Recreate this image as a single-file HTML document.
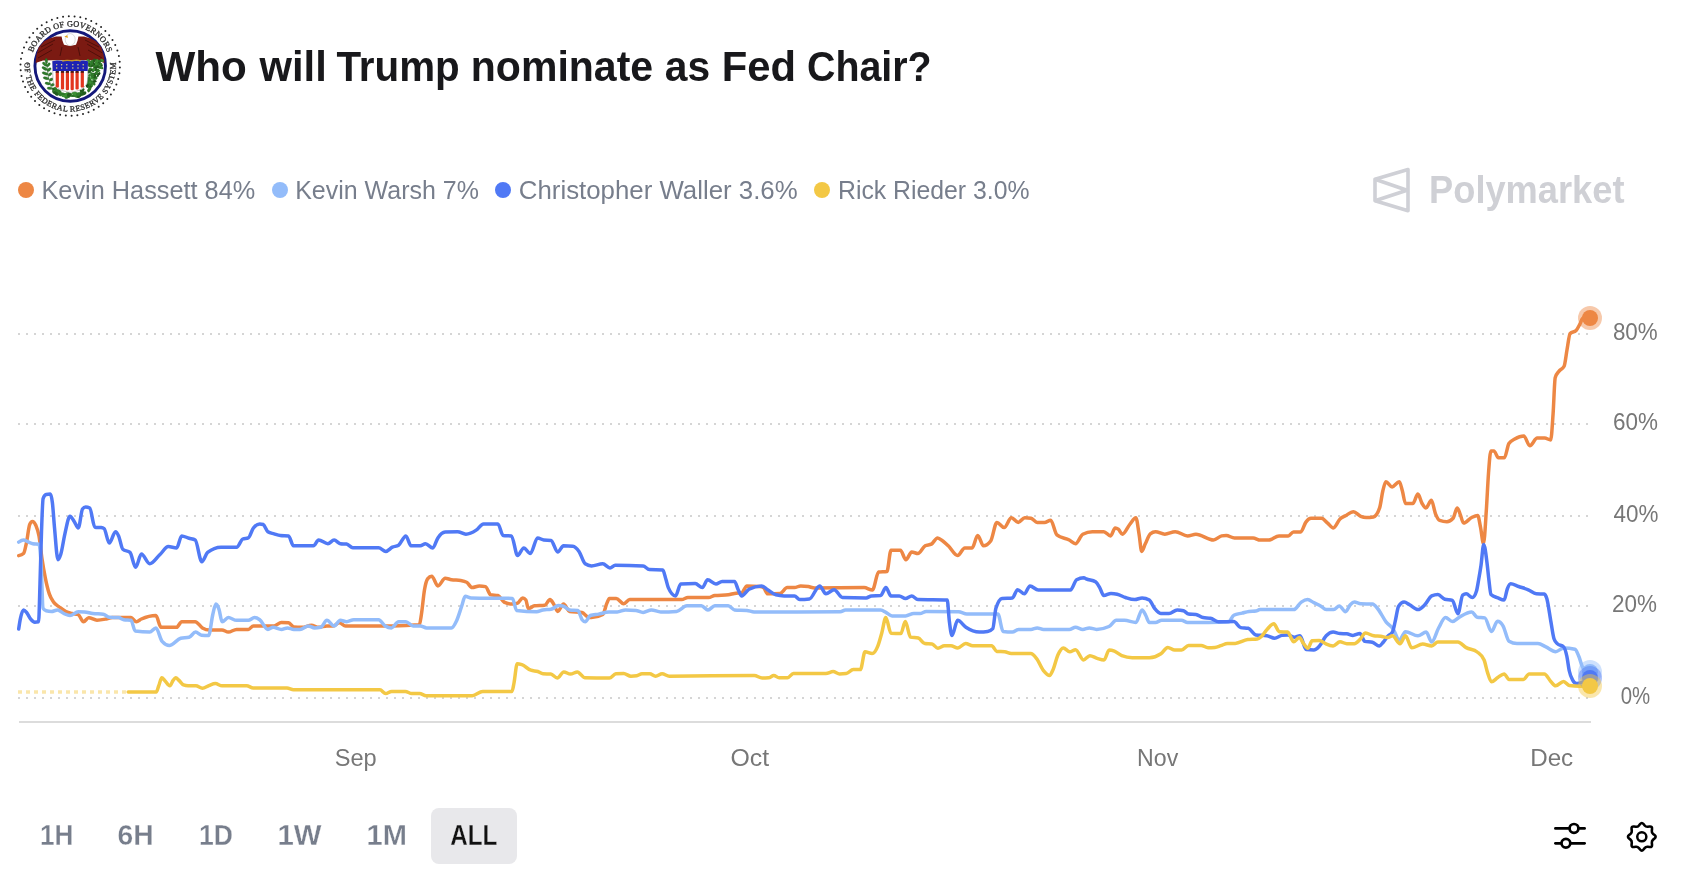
<!DOCTYPE html>
<html><head><meta charset="utf-8"><title>Who will Trump nominate as Fed Chair?</title>
<style>
html,body{margin:0;padding:0;background:#fff;}
body{width:1690px;height:870px;overflow:hidden;position:relative;font-family:"Liberation Sans",sans-serif;}
</style></head><body>
<svg width="1690" height="870" viewBox="0 0 1690 870" style="position:absolute;left:0;top:0;will-change:transform">
<g><circle cx="119.88" cy="67.49" r="1.0" fill="#222"/>
<circle cx="119.37" cy="73.25" r="1.0" fill="#222"/>
<circle cx="118.19" cy="78.91" r="1.0" fill="#222"/>
<circle cx="116.37" cy="84.39" r="1.0" fill="#222"/>
<circle cx="113.92" cy="89.63" r="1.0" fill="#222"/>
<circle cx="110.89" cy="94.54" r="1.0" fill="#222"/>
<circle cx="107.30" cy="99.07" r="1.0" fill="#222"/>
<circle cx="103.21" cy="103.16" r="1.0" fill="#222"/>
<circle cx="98.67" cy="106.74" r="1.0" fill="#222"/>
<circle cx="93.75" cy="109.77" r="1.0" fill="#222"/>
<circle cx="88.51" cy="112.21" r="1.0" fill="#222"/>
<circle cx="83.02" cy="114.02" r="1.0" fill="#222"/>
<circle cx="77.36" cy="115.18" r="1.0" fill="#222"/>
<circle cx="71.60" cy="115.68" r="1.0" fill="#222"/>
<circle cx="65.82" cy="115.51" r="1.0" fill="#222"/>
<circle cx="60.11" cy="114.66" r="1.0" fill="#222"/>
<circle cx="54.52" cy="113.16" r="1.0" fill="#222"/>
<circle cx="49.15" cy="111.02" r="1.0" fill="#222"/>
<circle cx="44.07" cy="108.28" r="1.0" fill="#222"/>
<circle cx="39.34" cy="104.96" r="1.0" fill="#222"/>
<circle cx="35.02" cy="101.11" r="1.0" fill="#222"/>
<circle cx="31.19" cy="96.79" r="1.0" fill="#222"/>
<circle cx="27.88" cy="92.05" r="1.0" fill="#222"/>
<circle cx="25.14" cy="86.96" r="1.0" fill="#222"/>
<circle cx="23.01" cy="81.59" r="1.0" fill="#222"/>
<circle cx="21.52" cy="76.01" r="1.0" fill="#222"/>
<circle cx="20.69" cy="70.29" r="1.0" fill="#222"/>
<circle cx="20.52" cy="64.51" r="1.0" fill="#222"/>
<circle cx="21.03" cy="58.75" r="1.0" fill="#222"/>
<circle cx="22.21" cy="53.09" r="1.0" fill="#222"/>
<circle cx="24.03" cy="47.61" r="1.0" fill="#222"/>
<circle cx="26.48" cy="42.37" r="1.0" fill="#222"/>
<circle cx="29.51" cy="37.46" r="1.0" fill="#222"/>
<circle cx="33.10" cy="32.93" r="1.0" fill="#222"/>
<circle cx="37.19" cy="28.84" r="1.0" fill="#222"/>
<circle cx="41.73" cy="25.26" r="1.0" fill="#222"/>
<circle cx="46.65" cy="22.23" r="1.0" fill="#222"/>
<circle cx="51.89" cy="19.79" r="1.0" fill="#222"/>
<circle cx="57.38" cy="17.98" r="1.0" fill="#222"/>
<circle cx="63.04" cy="16.82" r="1.0" fill="#222"/>
<circle cx="68.80" cy="16.32" r="1.0" fill="#222"/>
<circle cx="74.58" cy="16.49" r="1.0" fill="#222"/>
<circle cx="80.29" cy="17.34" r="1.0" fill="#222"/>
<circle cx="85.88" cy="18.84" r="1.0" fill="#222"/>
<circle cx="91.25" cy="20.98" r="1.0" fill="#222"/>
<circle cx="96.33" cy="23.72" r="1.0" fill="#222"/>
<circle cx="101.06" cy="27.04" r="1.0" fill="#222"/>
<circle cx="105.38" cy="30.89" r="1.0" fill="#222"/>
<circle cx="109.21" cy="35.21" r="1.0" fill="#222"/>
<circle cx="112.52" cy="39.95" r="1.0" fill="#222"/>
<circle cx="115.26" cy="45.04" r="1.0" fill="#222"/>
<circle cx="117.39" cy="50.41" r="1.0" fill="#222"/>
<circle cx="118.88" cy="55.99" r="1.0" fill="#222"/>
<circle cx="119.71" cy="61.71" r="1.0" fill="#222"/>
<path id="tp1" d="M31.20,59.12 A39.6,39.6 0 0 1 109.20,59.12" fill="none"/>
<path id="tp2" d="M25.04,59.65 A45.6,45.6 0 1 0 115.36,59.65" fill="none"/>
<text font-family="Liberation Serif" font-size="8.2" fill="#2a2a2a" stroke="#2a2a2a" stroke-width="0.3"><textPath href="#tp1" startOffset="50%" text-anchor="middle" textLength="97" lengthAdjust="spacing">BOARD OF GOVERNORS</textPath></text>
<text font-family="Liberation Serif" font-size="8.0" fill="#2a2a2a" stroke="#2a2a2a" stroke-width="0.3"><textPath href="#tp2" startOffset="50%" text-anchor="middle" textLength="150" lengthAdjust="spacing">OF THE FEDERAL RESERVE SYSTEM</textPath></text>
<circle cx="27.700000000000003" cy="64.5" r="0.9" fill="#555"/><circle cx="113.0" cy="64.5" r="0.9" fill="#555"/>
<circle cx="70.2" cy="66.0" r="35.25" fill="#fff" stroke="#14187a" stroke-width="2.9"/>
<path d="M35.6,63 L36.4,55 L38.6,47.5 L44,41.2 L50,38.2 L56,36.6 L61.6,36.4 L62.4,40.5 L64,44.8 L70,46 L76,44.8 L77.6,40.5 L78.4,36.4 L84,36.6 L90,38.2 L96,41.2 L101.4,47.5 L103.6,55 L104.6,63 L97,60.5 L88.2,60.2 L52.2,60.2 L43,60.5 Z" fill="#7b1a12"/>
<path d="M38,58 L52,50 M37.5,53 L53,44 M41,47 L55,40 M102,58 L88,50 M102.5,53 L87,44 M99,47 L85,40 M60,56 L62,47 M80,56 L78,47" stroke="#4a0d08" stroke-width="0.9" fill="none"/>
<ellipse cx="70.2" cy="39.6" rx="5.0" ry="6.0" fill="#fff" stroke="#b8b8b8" stroke-width="0.5"/>
<path d="M67.5,35.2 L64.3,36.6 L67.8,38.0 Z" fill="#e6a417"/>
<g><path d="M52,90 Q47.5,78 46.5,63" stroke="#24611f" stroke-width="0.7" fill="none"/><ellipse cx="46.37" cy="60.91" rx="2.60" ry="1.3" transform="rotate(-95.0 46.37 60.91)" fill="#2f7d2b" stroke="#1d4f1a" stroke-width="0.3"/><ellipse cx="44.69" cy="64.23" rx="2.75" ry="1.3" transform="rotate(-140.0 44.69 64.23)" fill="#2f7d2b" stroke="#1d4f1a" stroke-width="0.3"/><ellipse cx="48.48" cy="64.74" rx="2.30" ry="1.3" transform="rotate(-50.0 48.48 64.74)" fill="#2f7d2b" stroke="#1d4f1a" stroke-width="0.3"/><ellipse cx="44.60" cy="68.50" rx="3.00" ry="1.3" transform="rotate(-150.0 44.60 68.50)" fill="#2f7d2b" stroke="#1d4f1a" stroke-width="0.3"/><ellipse cx="49.22" cy="69.55" rx="2.25" ry="1.3" transform="rotate(-40.0 49.22 69.55)" fill="#2f7d2b" stroke="#1d4f1a" stroke-width="0.3"/><ellipse cx="45.09" cy="73.44" rx="3.10" ry="1.3" transform="rotate(-160.0 45.09 73.44)" fill="#2f7d2b" stroke="#1d4f1a" stroke-width="0.3"/><ellipse cx="50.12" cy="74.30" rx="2.10" ry="1.3" transform="rotate(-35.0 50.12 74.30)" fill="#2f7d2b" stroke="#1d4f1a" stroke-width="0.3"/><ellipse cx="46.10" cy="78.22" rx="3.00" ry="1.3" transform="rotate(-165.0 46.10 78.22)" fill="#2f7d2b" stroke="#1d4f1a" stroke-width="0.3"/><ellipse cx="51.33" cy="79.50" rx="2.00" ry="1.3" transform="rotate(-30.0 51.33 79.50)" fill="#2f7d2b" stroke="#1d4f1a" stroke-width="0.3"/><ellipse cx="47.69" cy="83.52" rx="2.75" ry="1.3" transform="rotate(-170.0 47.69 83.52)" fill="#2f7d2b" stroke="#1d4f1a" stroke-width="0.3"/><ellipse cx="52.72" cy="84.70" rx="1.90" ry="1.3" transform="rotate(-25.0 52.72 84.70)" fill="#2f7d2b" stroke="#1d4f1a" stroke-width="0.3"/><ellipse cx="49.36" cy="88.30" rx="2.25" ry="1.3" transform="rotate(-175.0 49.36 88.30)" fill="#2f7d2b" stroke="#1d4f1a" stroke-width="0.3"/></g>
<g><ellipse cx="94.87" cy="77.32" rx="1.33" ry="1.18" transform="rotate(170 94.87 77.32)" fill="#1f521b"/><ellipse cx="96.04" cy="78.02" rx="1.63" ry="1.42" transform="rotate(69 96.04 78.02)" fill="#2f7a2a"/><ellipse cx="91.72" cy="63.25" rx="1.67" ry="1.01" transform="rotate(156 91.72 63.25)" fill="#3b8f34"/><ellipse cx="97.39" cy="71.01" rx="1.42" ry="1.27" transform="rotate(23 97.39 71.01)" fill="#2f7a2a"/><ellipse cx="101.96" cy="60.55" rx="2.00" ry="1.48" transform="rotate(30 101.96 60.55)" fill="#3b8f34"/><ellipse cx="92.62" cy="65.00" rx="1.79" ry="1.31" transform="rotate(37 92.62 65.00)" fill="#3b8f34"/><ellipse cx="90.95" cy="85.91" rx="1.57" ry="1.12" transform="rotate(30 90.95 85.91)" fill="#2f7a2a"/><ellipse cx="88.95" cy="64.43" rx="2.04" ry="1.25" transform="rotate(107 88.95 64.43)" fill="#235d1e"/><ellipse cx="88.29" cy="79.61" rx="2.04" ry="1.19" transform="rotate(57 88.29 79.61)" fill="#235d1e"/><ellipse cx="95.89" cy="73.49" rx="1.53" ry="1.46" transform="rotate(171 95.89 73.49)" fill="#2f7a2a"/><ellipse cx="93.22" cy="70.16" rx="2.01" ry="1.12" transform="rotate(104 93.22 70.16)" fill="#1f521b"/><ellipse cx="88.32" cy="60.75" rx="1.86" ry="1.47" transform="rotate(21 88.32 60.75)" fill="#3b8f34"/><ellipse cx="99.40" cy="67.14" rx="1.61" ry="1.11" transform="rotate(94 99.40 67.14)" fill="#2f7a2a"/><ellipse cx="88.38" cy="81.44" rx="2.07" ry="0.92" transform="rotate(170 88.38 81.44)" fill="#235d1e"/><ellipse cx="93.15" cy="62.96" rx="1.63" ry="0.99" transform="rotate(50 93.15 62.96)" fill="#1f521b"/><ellipse cx="88.53" cy="79.47" rx="1.58" ry="1.38" transform="rotate(113 88.53 79.47)" fill="#235d1e"/><ellipse cx="90.25" cy="79.97" rx="1.45" ry="0.93" transform="rotate(178 90.25 79.97)" fill="#2f7a2a"/><ellipse cx="92.29" cy="74.91" rx="1.97" ry="1.11" transform="rotate(45 92.29 74.91)" fill="#3b8f34"/><ellipse cx="89.18" cy="78.08" rx="2.02" ry="1.10" transform="rotate(37 89.18 78.08)" fill="#2f7a2a"/><ellipse cx="89.82" cy="87.00" rx="1.87" ry="1.37" transform="rotate(19 89.82 87.00)" fill="#3b8f34"/><ellipse cx="89.88" cy="72.23" rx="1.57" ry="1.17" transform="rotate(180 89.88 72.23)" fill="#2f7a2a"/><ellipse cx="93.88" cy="83.51" rx="2.16" ry="1.31" transform="rotate(57 93.88 83.51)" fill="#2f7a2a"/><ellipse cx="94.47" cy="67.90" rx="1.40" ry="1.39" transform="rotate(96 94.47 67.90)" fill="#3b8f34"/><ellipse cx="101.65" cy="65.34" rx="1.46" ry="1.20" transform="rotate(93 101.65 65.34)" fill="#235d1e"/><ellipse cx="93.19" cy="75.30" rx="2.01" ry="1.36" transform="rotate(125 93.19 75.30)" fill="#2f7a2a"/><ellipse cx="94.59" cy="78.43" rx="1.80" ry="1.30" transform="rotate(150 94.59 78.43)" fill="#235d1e"/><ellipse cx="101.42" cy="67.65" rx="2.16" ry="1.10" transform="rotate(32 101.42 67.65)" fill="#235d1e"/><ellipse cx="90.52" cy="83.50" rx="1.59" ry="1.06" transform="rotate(52 90.52 83.50)" fill="#235d1e"/><ellipse cx="95.37" cy="74.01" rx="1.61" ry="1.29" transform="rotate(133 95.37 74.01)" fill="#235d1e"/><ellipse cx="89.85" cy="82.86" rx="2.08" ry="1.31" transform="rotate(176 89.85 82.86)" fill="#3b8f34"/><ellipse cx="89.82" cy="86.33" rx="2.18" ry="1.02" transform="rotate(65 89.82 86.33)" fill="#1f521b"/><ellipse cx="89.22" cy="83.55" rx="1.95" ry="1.34" transform="rotate(31 89.22 83.55)" fill="#2f7a2a"/><ellipse cx="91.93" cy="81.57" rx="1.57" ry="1.23" transform="rotate(156 91.93 81.57)" fill="#2f7a2a"/><ellipse cx="101.56" cy="67.81" rx="1.44" ry="1.16" transform="rotate(117 101.56 67.81)" fill="#3b8f34"/><ellipse cx="97.75" cy="66.41" rx="2.19" ry="1.49" transform="rotate(30 97.75 66.41)" fill="#2f7a2a"/><ellipse cx="87.89" cy="84.58" rx="1.73" ry="1.23" transform="rotate(75 87.89 84.58)" fill="#3b8f34"/><ellipse cx="96.48" cy="69.98" rx="1.83" ry="1.04" transform="rotate(163 96.48 69.98)" fill="#2f7a2a"/><ellipse cx="94.23" cy="60.52" rx="2.07" ry="1.42" transform="rotate(124 94.23 60.52)" fill="#235d1e"/><ellipse cx="97.93" cy="75.28" rx="1.85" ry="0.96" transform="rotate(98 97.93 75.28)" fill="#1f521b"/><ellipse cx="95.54" cy="69.66" rx="2.04" ry="1.15" transform="rotate(146 95.54 69.66)" fill="#235d1e"/><ellipse cx="91.26" cy="77.84" rx="1.44" ry="1.13" transform="rotate(86 91.26 77.84)" fill="#3b8f34"/><ellipse cx="89.98" cy="65.88" rx="1.62" ry="1.44" transform="rotate(0 89.98 65.88)" fill="#2f7a2a"/><ellipse cx="96.58" cy="63.41" rx="1.79" ry="1.10" transform="rotate(158 96.58 63.41)" fill="#1f521b"/><ellipse cx="92.33" cy="75.74" rx="1.74" ry="1.19" transform="rotate(127 92.33 75.74)" fill="#3b8f34"/><ellipse cx="98.57" cy="70.87" rx="1.84" ry="1.06" transform="rotate(177 98.57 70.87)" fill="#3b8f34"/><ellipse cx="92.61" cy="73.90" rx="2.15" ry="1.08" transform="rotate(167 92.61 73.90)" fill="#235d1e"/><ellipse cx="88.33" cy="64.37" rx="2.16" ry="1.05" transform="rotate(7 88.33 64.37)" fill="#1f521b"/><ellipse cx="93.86" cy="64.18" rx="1.78" ry="1.06" transform="rotate(168 93.86 64.18)" fill="#2f7a2a"/><ellipse cx="89.39" cy="81.61" rx="2.06" ry="1.33" transform="rotate(51 89.39 81.61)" fill="#235d1e"/><ellipse cx="98.92" cy="73.79" rx="1.88" ry="1.26" transform="rotate(134 98.92 73.79)" fill="#1f521b"/><ellipse cx="99.50" cy="63.69" rx="1.55" ry="1.32" transform="rotate(110 99.50 63.69)" fill="#235d1e"/><ellipse cx="87.89" cy="80.24" rx="1.62" ry="1.35" transform="rotate(106 87.89 80.24)" fill="#235d1e"/><ellipse cx="91.75" cy="61.48" rx="1.92" ry="0.96" transform="rotate(124 91.75 61.48)" fill="#2f7a2a"/><ellipse cx="94.25" cy="65.66" rx="1.84" ry="1.31" transform="rotate(172 94.25 65.66)" fill="#2f7a2a"/><ellipse cx="95.66" cy="78.02" rx="1.73" ry="1.31" transform="rotate(130 95.66 78.02)" fill="#2f7a2a"/><ellipse cx="90.04" cy="84.77" rx="1.57" ry="0.90" transform="rotate(140 90.04 84.77)" fill="#2f7a2a"/><ellipse cx="94.37" cy="76.22" rx="2.12" ry="0.99" transform="rotate(86 94.37 76.22)" fill="#2f7a2a"/><ellipse cx="93.13" cy="75.33" rx="1.78" ry="1.16" transform="rotate(97 93.13 75.33)" fill="#235d1e"/><ellipse cx="99.46" cy="61.81" rx="2.04" ry="1.38" transform="rotate(119 99.46 61.81)" fill="#235d1e"/><ellipse cx="99.40" cy="61.19" rx="2.20" ry="1.32" transform="rotate(9 99.40 61.19)" fill="#2f7a2a"/><ellipse cx="88.86" cy="83.24" rx="1.94" ry="0.98" transform="rotate(53 88.86 83.24)" fill="#2f7a2a"/><ellipse cx="88.00" cy="85.29" rx="1.47" ry="1.38" transform="rotate(12 88.00 85.29)" fill="#1f521b"/><ellipse cx="95.94" cy="66.25" rx="1.97" ry="1.07" transform="rotate(103 95.94 66.25)" fill="#2f7a2a"/><ellipse cx="93.99" cy="63.70" rx="1.42" ry="1.16" transform="rotate(57 93.99 63.70)" fill="#1f521b"/><ellipse cx="92.68" cy="76.71" rx="2.12" ry="0.98" transform="rotate(53 92.68 76.71)" fill="#235d1e"/><ellipse cx="94.79" cy="75.85" rx="2.12" ry="1.23" transform="rotate(112 94.79 75.85)" fill="#235d1e"/><ellipse cx="95.62" cy="67.61" rx="2.05" ry="1.07" transform="rotate(176 95.62 67.61)" fill="#235d1e"/><ellipse cx="93.71" cy="82.32" rx="1.96" ry="1.01" transform="rotate(128 93.71 82.32)" fill="#2f7a2a"/><ellipse cx="88.62" cy="78.19" rx="1.38" ry="0.97" transform="rotate(107 88.62 78.19)" fill="#2f7a2a"/><ellipse cx="100.26" cy="66.94" rx="2.17" ry="0.96" transform="rotate(96 100.26 66.94)" fill="#2f7a2a"/><ellipse cx="92.02" cy="75.14" rx="2.15" ry="1.16" transform="rotate(143 92.02 75.14)" fill="#3b8f34"/><ellipse cx="88.29" cy="80.74" rx="2.04" ry="0.98" transform="rotate(112 88.29 80.74)" fill="#2f7a2a"/><ellipse cx="91.12" cy="70.07" rx="2.14" ry="1.32" transform="rotate(143 91.12 70.07)" fill="#235d1e"/><ellipse cx="97.01" cy="70.71" rx="1.88" ry="1.38" transform="rotate(78 97.01 70.71)" fill="#235d1e"/><ellipse cx="90.81" cy="83.49" rx="2.19" ry="1.03" transform="rotate(32 90.81 83.49)" fill="#1f521b"/><ellipse cx="88.35" cy="62.21" rx="1.48" ry="0.92" transform="rotate(160 88.35 62.21)" fill="#3b8f34"/><ellipse cx="96.50" cy="73.49" rx="1.68" ry="1.08" transform="rotate(168 96.50 73.49)" fill="#2f7a2a"/><ellipse cx="89.00" cy="85.39" rx="1.39" ry="0.99" transform="rotate(29 89.00 85.39)" fill="#2f7a2a"/><ellipse cx="92.91" cy="70.62" rx="1.44" ry="1.05" transform="rotate(50 92.91 70.62)" fill="#2f7a2a"/><ellipse cx="92.24" cy="64.86" rx="1.33" ry="1.44" transform="rotate(62 92.24 64.86)" fill="#3b8f34"/><ellipse cx="90.11" cy="80.80" rx="1.92" ry="1.30" transform="rotate(85 90.11 80.80)" fill="#2f7a2a"/><ellipse cx="87.67" cy="86.03" rx="1.56" ry="1.30" transform="rotate(131 87.67 86.03)" fill="#235d1e"/><ellipse cx="90.97" cy="64.91" rx="1.82" ry="1.29" transform="rotate(111 90.97 64.91)" fill="#2f7a2a"/><ellipse cx="91.39" cy="85.12" rx="1.47" ry="1.12" transform="rotate(12 91.39 85.12)" fill="#235d1e"/><ellipse cx="89.20" cy="87.33" rx="1.46" ry="1.03" transform="rotate(8 89.20 87.33)" fill="#3b8f34"/><ellipse cx="94.87" cy="76.93" rx="1.31" ry="0.94" transform="rotate(140 94.87 76.93)" fill="#235d1e"/><ellipse cx="88.70" cy="71.57" rx="2.05" ry="1.40" transform="rotate(102 88.70 71.57)" fill="#1f521b"/><ellipse cx="91.12" cy="85.87" rx="2.11" ry="1.19" transform="rotate(168 91.12 85.87)" fill="#3b8f34"/><ellipse cx="91.62" cy="61.95" rx="1.75" ry="1.37" transform="rotate(9 91.62 61.95)" fill="#2f7a2a"/><ellipse cx="90.48" cy="83.00" rx="2.09" ry="1.47" transform="rotate(35 90.48 83.00)" fill="#2f7a2a"/><ellipse cx="93.23" cy="79.28" rx="1.78" ry="0.95" transform="rotate(56 93.23 79.28)" fill="#3b8f34"/><ellipse cx="96.21" cy="63.42" rx="1.84" ry="1.41" transform="rotate(39 96.21 63.42)" fill="#3b8f34"/><ellipse cx="96.43" cy="60.97" rx="1.68" ry="1.36" transform="rotate(94 96.43 60.97)" fill="#2f7a2a"/><ellipse cx="88.14" cy="64.08" rx="1.92" ry="1.43" transform="rotate(180 88.14 64.08)" fill="#235d1e"/><ellipse cx="89.44" cy="75.47" rx="1.38" ry="1.36" transform="rotate(147 89.44 75.47)" fill="#2f7a2a"/><ellipse cx="89.86" cy="68.95" rx="1.72" ry="1.32" transform="rotate(144 89.86 68.95)" fill="#2f7a2a"/><ellipse cx="90.51" cy="86.63" rx="1.36" ry="1.32" transform="rotate(9 90.51 86.63)" fill="#235d1e"/><ellipse cx="92.16" cy="65.90" rx="2.10" ry="0.94" transform="rotate(139 92.16 65.90)" fill="#235d1e"/><ellipse cx="97.56" cy="70.76" rx="2.11" ry="1.29" transform="rotate(137 97.56 70.76)" fill="#2f7a2a"/><ellipse cx="92.39" cy="76.02" rx="1.96" ry="1.32" transform="rotate(48 92.39 76.02)" fill="#2f7a2a"/><ellipse cx="90.20" cy="82.43" rx="1.59" ry="1.08" transform="rotate(25 90.20 82.43)" fill="#3b8f34"/><ellipse cx="91.60" cy="73.94" rx="1.36" ry="1.36" transform="rotate(100 91.60 73.94)" fill="#2f7a2a"/><ellipse cx="88.45" cy="61.24" rx="2.04" ry="1.16" transform="rotate(46 88.45 61.24)" fill="#3b8f34"/><ellipse cx="87.08" cy="86.19" rx="1.69" ry="1.12" transform="rotate(59 87.08 86.19)" fill="#1f521b"/><ellipse cx="97.18" cy="60.84" rx="1.95" ry="0.96" transform="rotate(95 97.18 60.84)" fill="#3b8f34"/><ellipse cx="98.40" cy="65.12" rx="1.99" ry="1.16" transform="rotate(77 98.40 65.12)" fill="#2f7a2a"/><ellipse cx="93.86" cy="69.50" rx="1.71" ry="1.16" transform="rotate(79 93.86 69.50)" fill="#3b8f34"/><ellipse cx="94.79" cy="81.22" rx="1.73" ry="1.19" transform="rotate(0 94.79 81.22)" fill="#1f521b"/><ellipse cx="100.81" cy="63.93" rx="1.49" ry="0.90" transform="rotate(164 100.81 63.93)" fill="#2f7a2a"/><ellipse cx="97.90" cy="66.87" rx="1.65" ry="1.03" transform="rotate(50 97.90 66.87)" fill="#235d1e"/></g>
<g><ellipse cx="58.99" cy="93.31" rx="3.07" ry="1.75" transform="rotate(192 58.99 93.31)" fill="#3b8f34"/><ellipse cx="83.10" cy="93.56" rx="3.18" ry="1.79" transform="rotate(164 83.10 93.56)" fill="#235d1e"/><ellipse cx="66.92" cy="93.82" rx="2.69" ry="1.23" transform="rotate(160 66.92 93.82)" fill="#2f7a2a"/><ellipse cx="55.02" cy="91.97" rx="3.12" ry="1.73" transform="rotate(208 55.02 91.97)" fill="#2f7a2a"/><ellipse cx="69.52" cy="95.41" rx="3.12" ry="1.46" transform="rotate(142 69.52 95.41)" fill="#2f7a2a"/><ellipse cx="71.19" cy="95.60" rx="3.14" ry="1.22" transform="rotate(192 71.19 95.60)" fill="#2f7a2a"/><ellipse cx="75.09" cy="94.94" rx="2.67" ry="1.69" transform="rotate(162 75.09 94.94)" fill="#235d1e"/><ellipse cx="89.20" cy="89.78" rx="2.78" ry="1.24" transform="rotate(113 89.20 89.78)" fill="#235d1e"/><ellipse cx="67.23" cy="96.81" rx="2.95" ry="1.57" transform="rotate(168 67.23 96.81)" fill="#2f7a2a"/><ellipse cx="55.49" cy="89.60" rx="2.85" ry="1.80" transform="rotate(247 55.49 89.60)" fill="#3b8f34"/><ellipse cx="67.08" cy="96.83" rx="2.38" ry="1.70" transform="rotate(152 67.08 96.83)" fill="#2f7a2a"/><ellipse cx="80.80" cy="93.97" rx="3.26" ry="1.68" transform="rotate(186 80.80 93.97)" fill="#3b8f34"/><ellipse cx="80.17" cy="93.98" rx="2.68" ry="1.26" transform="rotate(130 80.17 93.98)" fill="#2f7a2a"/><ellipse cx="64.24" cy="95.74" rx="2.55" ry="1.20" transform="rotate(183 64.24 95.74)" fill="#3b8f34"/><ellipse cx="58.01" cy="93.25" rx="3.27" ry="1.63" transform="rotate(195 58.01 93.25)" fill="#2f7a2a"/><ellipse cx="55.43" cy="92.09" rx="2.96" ry="1.89" transform="rotate(189 55.43 92.09)" fill="#235d1e"/><ellipse cx="55.84" cy="90.68" rx="3.12" ry="1.25" transform="rotate(246 55.84 90.68)" fill="#3b8f34"/><ellipse cx="54.83" cy="90.58" rx="2.31" ry="1.24" transform="rotate(217 54.83 90.58)" fill="#2f7a2a"/><ellipse cx="84.01" cy="93.38" rx="2.57" ry="1.36" transform="rotate(152 84.01 93.38)" fill="#235d1e"/><ellipse cx="74.40" cy="94.07" rx="2.39" ry="1.62" transform="rotate(209 74.40 94.07)" fill="#3b8f34"/><ellipse cx="59.24" cy="91.34" rx="2.41" ry="1.59" transform="rotate(208 59.24 91.34)" fill="#2f7a2a"/><ellipse cx="68.12" cy="94.60" rx="2.90" ry="1.68" transform="rotate(202 68.12 94.60)" fill="#2f7a2a"/><ellipse cx="54.18" cy="90.47" rx="3.34" ry="1.42" transform="rotate(241 54.18 90.47)" fill="#235d1e"/><ellipse cx="76.78" cy="96.13" rx="3.25" ry="1.63" transform="rotate(192 76.78 96.13)" fill="#2f7a2a"/><ellipse cx="82.91" cy="90.39" rx="2.22" ry="1.26" transform="rotate(125 82.91 90.39)" fill="#235d1e"/><ellipse cx="75.05" cy="93.45" rx="3.03" ry="1.77" transform="rotate(194 75.05 93.45)" fill="#3b8f34"/><ellipse cx="79.53" cy="95.38" rx="2.88" ry="1.88" transform="rotate(131 79.53 95.38)" fill="#235d1e"/><ellipse cx="56.34" cy="90.02" rx="2.45" ry="1.32" transform="rotate(241 56.34 90.02)" fill="#2f7a2a"/><ellipse cx="89.26" cy="89.49" rx="2.56" ry="1.58" transform="rotate(131 89.26 89.49)" fill="#2f7a2a"/><ellipse cx="55.90" cy="91.97" rx="2.19" ry="1.20" transform="rotate(199 55.90 91.97)" fill="#3b8f34"/><ellipse cx="64.30" cy="95.59" rx="3.06" ry="1.70" transform="rotate(175 64.30 95.59)" fill="#3b8f34"/><ellipse cx="56.08" cy="91.59" rx="3.05" ry="1.34" transform="rotate(196 56.08 91.59)" fill="#3b8f34"/><ellipse cx="56.26" cy="93.42" rx="2.98" ry="1.75" transform="rotate(213 56.26 93.42)" fill="#235d1e"/><ellipse cx="62.81" cy="93.75" rx="2.73" ry="1.24" transform="rotate(189 62.81 93.75)" fill="#2f7a2a"/><ellipse cx="60.24" cy="94.19" rx="2.20" ry="1.88" transform="rotate(204 60.24 94.19)" fill="#2f7a2a"/><ellipse cx="68.10" cy="94.07" rx="3.20" ry="1.37" transform="rotate(180 68.10 94.07)" fill="#3b8f34"/><ellipse cx="57.18" cy="90.56" rx="2.51" ry="1.21" transform="rotate(188 57.18 90.56)" fill="#2f7a2a"/><ellipse cx="69.06" cy="94.86" rx="2.11" ry="1.88" transform="rotate(158 69.06 94.86)" fill="#235d1e"/><ellipse cx="81.70" cy="91.03" rx="2.12" ry="1.40" transform="rotate(192 81.70 91.03)" fill="#235d1e"/><ellipse cx="78.08" cy="94.25" rx="2.22" ry="1.74" transform="rotate(164 78.08 94.25)" fill="#2f7a2a"/></g>
<path d="M52.4,61.2 L57,60.6 Q70,61.6 83.5,60.6 L88,61.2 L87.6,80 C87.4,87.5 79,91.5 70.3,92.3 C61.5,91.5 53.2,87.5 53,80 Z" fill="#fff" stroke="#8a8a8a" stroke-width="0.5"/>
<path d="M52.4,61.2 L57,60.6 Q70,61.6 83.5,60.6 L88,61.2 L87.7,71.1 L52.8,71.1 Z" fill="#1f23b4"/>
<rect x="55.7" y="71.2" width="3.2" height="16.4" rx="1.2" fill="#e2361f"/>
<rect x="55.7" y="71.1" width="3.2" height="1.6" fill="#3a1410"/>
<rect x="60.9" y="71.2" width="3.2" height="18.2" rx="1.2" fill="#e2361f"/>
<rect x="60.9" y="71.1" width="3.2" height="1.6" fill="#3a1410"/>
<rect x="65.8" y="71.2" width="3.2" height="19.0" rx="1.2" fill="#e2361f"/>
<rect x="65.8" y="71.1" width="3.2" height="1.6" fill="#3a1410"/>
<rect x="70.6" y="71.2" width="3.2" height="19.0" rx="1.2" fill="#e2361f"/>
<rect x="70.6" y="71.1" width="3.2" height="1.6" fill="#3a1410"/>
<rect x="75.5" y="71.2" width="3.2" height="18.2" rx="1.2" fill="#e2361f"/>
<rect x="75.5" y="71.1" width="3.2" height="1.6" fill="#3a1410"/>
<rect x="80.7" y="71.2" width="3.2" height="16.4" rx="1.2" fill="#e2361f"/>
<rect x="80.7" y="71.1" width="3.2" height="1.6" fill="#3a1410"/>
<circle cx="56.7" cy="64.8" r="0.75" fill="#eadb78"/>
<circle cx="61.6" cy="64.8" r="0.75" fill="#eadb78"/>
<circle cx="66.8" cy="64.8" r="0.75" fill="#eadb78"/>
<circle cx="72.8" cy="64.8" r="0.75" fill="#eadb78"/>
<circle cx="78.0" cy="64.8" r="0.75" fill="#eadb78"/>
<circle cx="83.2" cy="64.8" r="0.75" fill="#eadb78"/>
<circle cx="56.7" cy="67.9" r="0.75" fill="#eadb78"/>
<circle cx="61.6" cy="67.9" r="0.75" fill="#eadb78"/>
<circle cx="66.8" cy="67.9" r="0.75" fill="#eadb78"/>
<circle cx="72.8" cy="67.9" r="0.75" fill="#eadb78"/>
<circle cx="78.0" cy="67.9" r="0.75" fill="#eadb78"/>
<circle cx="83.2" cy="67.9" r="0.75" fill="#eadb78"/>
<path d="M62.2,61.2 C66,59.6 70,60.6 72,60.8 C75,60 78,59.8 80.6,61" stroke="#c79a2e" stroke-width="1.4" fill="none"/></g>
<text x="155.4" y="81.0" font-family="Liberation Sans" font-size="42.27" font-weight="bold" fill="#18181b" text-anchor="start" textLength="91.33" lengthAdjust="spacingAndGlyphs">Who</text><text x="259.5" y="81.0" font-family="Liberation Sans" font-size="42.27" font-weight="bold" fill="#18181b" text-anchor="start" textLength="67.28" lengthAdjust="spacingAndGlyphs">will</text><text x="336.4" y="81.0" font-family="Liberation Sans" font-size="42.27" font-weight="bold" fill="#18181b" text-anchor="start" textLength="123.3" lengthAdjust="spacingAndGlyphs">Trump</text><text x="470.8" y="81.0" font-family="Liberation Sans" font-size="42.27" font-weight="bold" fill="#18181b" text-anchor="start" textLength="182.39" lengthAdjust="spacingAndGlyphs">nominate</text><text x="664.8" y="81.0" font-family="Liberation Sans" font-size="42.27" font-weight="bold" fill="#18181b" text-anchor="start" textLength="45.34" lengthAdjust="spacingAndGlyphs">as</text><text x="721.8" y="81.0" font-family="Liberation Sans" font-size="42.27" font-weight="bold" fill="#18181b" text-anchor="start" textLength="74.31" lengthAdjust="spacingAndGlyphs">Fed</text><text x="807.0" y="81.0" font-family="Liberation Sans" font-size="42.27" font-weight="bold" fill="#18181b" text-anchor="start" textLength="124.66" lengthAdjust="spacingAndGlyphs">Chair?</text>
<circle cx="26" cy="190" r="8" fill="#ED8744"/><circle cx="280" cy="190" r="8" fill="#93BCFA"/><circle cx="503" cy="190" r="8" fill="#5079F5"/><circle cx="822" cy="190" r="8" fill="#F3C845"/><text x="41.5" y="198.9" font-family="Liberation Sans" font-size="25.4" font-weight="normal" fill="#777e8c" text-anchor="start" textLength="213.72" lengthAdjust="spacingAndGlyphs">Kevin Hassett 84%</text><text x="295.2" y="198.9" font-family="Liberation Sans" font-size="25.4" font-weight="normal" fill="#777e8c" text-anchor="start" textLength="183.71" lengthAdjust="spacingAndGlyphs">Kevin Warsh 7%</text><text x="518.8" y="198.9" font-family="Liberation Sans" font-size="25.4" font-weight="normal" fill="#777e8c" text-anchor="start" textLength="278.86" lengthAdjust="spacingAndGlyphs">Christopher Waller 3.6%</text><text x="838.0" y="198.9" font-family="Liberation Sans" font-size="25.4" font-weight="normal" fill="#777e8c" text-anchor="start" textLength="191.51" lengthAdjust="spacingAndGlyphs">Rick Rieder 3.0%</text>
<g stroke="#cfd0d6" stroke-width="3.6" fill="none" stroke-linejoin="round"><path d="M1375,179.3 L1408,169.6 L1408,210.7 L1375,200.7 Z"/><path d="M1375,179.3 L1407,190.3 L1375,200.7"/></g><text x="1429.1" y="203.0" font-family="Liberation Sans" font-size="39.28" font-weight="bold" fill="#cfd0d5" text-anchor="start" textLength="195.39" lengthAdjust="spacingAndGlyphs">Polymarket</text>
<line x1="18" y1="334" x2="1590" y2="334" stroke="#d5d5d5" stroke-width="2" stroke-dasharray="2 6"/>
<line x1="18" y1="424" x2="1590" y2="424" stroke="#d5d5d5" stroke-width="2" stroke-dasharray="2 6"/>
<line x1="18" y1="516" x2="1590" y2="516" stroke="#d5d5d5" stroke-width="2" stroke-dasharray="2 6"/>
<line x1="18" y1="606" x2="1590" y2="606" stroke="#d5d5d5" stroke-width="2" stroke-dasharray="2 6"/>
<line x1="18" y1="698" x2="1590" y2="698" stroke="#d5d5d5" stroke-width="2" stroke-dasharray="2 6"/>
<line x1="19" y1="722" x2="1591" y2="722" stroke="#dcdcdc" stroke-width="2"/>
<line x1="18" y1="692" x2="128" y2="692" stroke="#F3C845" stroke-opacity="0.45" stroke-width="3.5" stroke-dasharray="4 4"/>
<path d="M18.70,555.60C20.30,555.25 21.90,554.90 23.50,553.50C24.53,552.60 25.57,546.83 26.60,542.00C27.63,537.17 28.67,526.87 29.70,524.50C30.60,522.43 31.50,521.40 32.40,521.40C33.57,521.40 34.73,522.77 35.90,525.50C36.93,527.92 37.97,530.31 39.00,536.00C40.00,541.51 41.00,551.98 42.00,558.70C43.07,565.87 44.13,571.92 45.20,577.30C46.57,584.19 47.93,589.80 49.30,593.90C50.70,598.10 52.10,599.91 53.50,602.00C55.57,605.09 57.63,605.72 59.70,607.30C61.77,608.88 63.83,610.47 65.90,611.50C67.97,612.53 70.03,612.98 72.10,613.50C74.17,614.02 76.23,613.87 78.30,614.60C80.03,615.22 81.77,621.80 83.50,621.80C85.23,621.80 86.97,617.70 88.70,617.70C91.47,617.70 94.23,620.20 97.00,620.20C100.07,620.20 103.13,619.57 106.20,619.00C108.27,618.61 110.33,617.60 112.40,617.60C118.60,617.60 124.80,617.60 131.00,617.60C132.73,617.60 134.47,621.70 136.20,621.70C137.93,621.70 139.67,619.77 141.40,619.00C146.23,616.84 151.07,615.50 155.90,615.50C157.60,615.50 159.30,627.30 161.00,627.30C166.20,627.30 171.40,627.30 176.60,627.30C178.30,627.30 180.00,621.70 181.70,621.70C186.20,621.70 190.70,621.70 195.20,621.70C197.60,621.70 200.00,626.52 202.40,627.90C204.83,629.30 207.27,630.00 209.70,630.00C213.80,630.00 217.90,630.00 222.00,630.00C224.10,630.00 226.20,632.10 228.30,632.10C231.07,632.10 233.83,629.40 236.60,629.40C240.50,629.40 244.40,629.40 248.30,629.40C250.00,629.40 251.70,625.90 253.40,625.90C260.30,625.90 267.20,625.90 274.10,625.90C276.53,625.90 278.97,622.40 281.40,622.40C283.80,622.40 286.20,622.53 288.60,622.80C290.33,622.99 292.07,626.73 293.80,626.90C296.57,627.17 299.33,627.30 302.10,627.30C305.20,627.30 308.30,625.30 311.40,625.30C313.80,625.30 316.20,627.30 318.60,627.30C321.37,627.30 324.13,625.90 326.90,625.90C328.97,625.90 331.03,625.90 333.10,625.90C335.17,625.90 337.23,622.80 339.30,622.80C341.37,622.80 343.43,625.90 345.50,625.90C361.13,625.90 376.77,625.90 392.40,625.90C401.37,625.90 410.33,625.53 419.30,624.80C420.00,624.74 420.70,618.81 421.40,614.50C422.43,608.14 423.47,595.63 424.50,589.70C425.53,583.77 426.57,580.26 427.60,578.90C428.97,577.10 430.33,576.20 431.70,576.20C433.77,576.20 435.83,585.90 437.90,585.90C440.33,585.90 442.77,578.30 445.20,578.30C447.27,578.30 449.33,579.39 451.40,579.70C454.50,580.17 457.60,579.93 460.70,580.40C462.77,580.71 464.83,581.07 466.90,582.40C468.63,583.52 470.37,587.60 472.10,587.60C474.50,587.60 476.90,585.90 479.30,585.90C481.37,585.90 483.43,586.13 485.50,586.60C487.23,586.99 488.97,594.46 490.70,594.80C493.10,595.27 495.50,595.03 497.90,595.50C499.97,595.90 502.03,601.10 504.10,602.10C506.87,603.43 509.63,604.10 512.40,604.10C514.13,604.10 515.87,603.77 517.60,603.10C519.33,602.43 521.07,597.90 522.80,597.90C523.83,597.90 524.87,598.60 525.90,600.00C526.70,601.08 527.50,608.70 528.30,608.70C530.37,608.70 532.43,606.04 534.50,605.80C537.93,605.40 541.37,605.60 544.80,605.20C546.53,605.00 548.27,599.60 550.00,599.60C551.17,599.60 552.33,601.98 553.50,603.70C554.90,605.76 556.30,611.40 557.70,611.40C559.63,611.40 561.57,604.10 563.50,604.10C565.57,604.10 567.63,611.07 569.70,611.40C573.83,612.07 577.97,611.73 582.10,612.40C583.80,612.67 585.50,615.79 587.20,616.60C588.60,617.27 590.00,617.60 591.40,617.60C595.20,617.60 599.00,616.57 602.80,614.50C604.17,613.76 605.53,606.14 606.90,603.10C607.73,601.25 608.57,598.40 609.40,598.40C611.67,598.40 613.93,598.40 616.20,598.40C618.63,598.40 621.07,603.70 623.50,603.70C625.57,603.70 627.63,599.60 629.70,599.60C647.03,599.60 664.37,599.60 681.70,599.60C683.77,599.60 685.83,597.50 687.90,597.50C694.80,597.50 701.70,597.50 708.60,597.50C710.67,597.50 712.73,595.71 714.80,595.50C719.30,595.03 723.80,595.27 728.30,594.80C730.37,594.59 732.43,593.73 734.50,593.40C736.90,593.02 739.30,593.20 741.70,592.80C743.43,592.51 745.17,585.90 746.90,585.90C751.03,585.90 755.17,586.13 759.30,586.60C760.70,586.76 762.10,586.93 763.50,587.60C764.87,588.25 766.23,593.80 767.60,593.80C771.73,593.80 775.87,593.67 780.00,593.40C782.40,593.25 784.80,587.60 787.20,587.60C789.63,587.60 792.07,587.60 794.50,587.60C796.57,587.60 798.63,585.90 800.70,585.90C803.23,585.90 805.77,586.18 808.30,586.60C810.37,586.94 812.43,588.00 814.50,588.00C831.03,588.00 847.57,587.60 864.10,587.60C866.87,587.60 869.63,590.10 872.40,590.10C874.47,590.10 876.53,572.40 878.60,572.10C881.37,571.70 884.13,571.90 886.90,571.50C888.27,571.30 889.63,550.30 891.00,550.30C894.13,550.30 897.27,550.30 900.40,550.30C902.23,550.30 904.07,559.70 905.90,559.70C907.83,559.70 909.77,552.00 911.70,552.00C913.77,552.00 915.83,553.50 917.90,553.50C920.33,553.50 922.77,547.13 925.20,545.80C927.27,544.67 929.33,545.23 931.40,544.10C933.47,542.97 935.53,537.90 937.60,537.90C939.33,537.90 941.07,539.73 942.80,541.00C944.63,542.34 946.47,544.08 948.30,545.80C951.40,548.70 954.50,555.50 957.60,555.50C960.00,555.50 962.40,547.90 964.80,547.90C967.23,547.90 969.67,547.90 972.10,547.90C973.97,547.90 975.83,535.50 977.70,535.50C979.63,535.50 981.57,545.80 983.50,545.80C985.90,545.80 988.30,544.20 990.70,541.00C992.77,538.24 994.83,522.40 996.90,522.40C999.30,522.40 1001.70,527.60 1004.10,527.60C1006.53,527.60 1008.97,517.70 1011.40,517.70C1013.67,517.70 1015.93,522.40 1018.20,522.40C1020.40,522.40 1022.60,517.70 1024.80,517.70C1026.87,517.70 1028.93,517.90 1031.00,518.30C1033.07,518.70 1035.13,522.40 1037.20,522.40C1039.63,522.40 1042.07,522.40 1044.50,522.40C1046.57,522.40 1048.63,520.30 1050.70,520.30C1052.77,520.30 1054.83,533.07 1056.90,534.80C1061.03,538.27 1065.17,537.78 1069.30,540.00C1071.37,541.11 1073.43,543.70 1075.50,543.70C1077.93,543.70 1080.37,535.47 1082.80,534.20C1086.00,532.53 1089.20,531.70 1092.40,531.70C1096.20,531.70 1100.00,531.70 1103.80,531.70C1106.07,531.70 1108.33,535.90 1110.60,535.90C1112.13,535.90 1113.67,528.00 1115.20,528.00C1116.23,528.00 1117.27,528.43 1118.30,529.20C1119.67,530.22 1121.03,534.20 1122.40,534.20C1124.83,534.20 1127.27,527.43 1129.70,524.50C1131.77,522.01 1133.83,517.70 1135.90,517.70C1136.93,517.70 1137.97,527.70 1139.00,533.80C1139.90,539.11 1140.80,551.40 1141.70,551.40C1142.87,551.40 1144.03,546.50 1145.20,544.10C1146.90,540.60 1148.60,535.17 1150.30,533.80C1152.03,532.40 1153.77,531.70 1155.50,531.70C1158.60,531.70 1161.70,534.20 1164.80,534.20C1168.27,534.20 1171.73,531.70 1175.20,531.70C1179.33,531.70 1183.47,535.90 1187.60,535.90C1190.37,535.90 1193.13,534.20 1195.90,534.20C1201.77,534.20 1207.63,540.00 1213.50,540.00C1216.23,540.00 1218.97,536.39 1221.70,535.90C1223.20,535.63 1224.70,535.50 1226.20,535.50C1228.97,535.50 1231.73,538.00 1234.50,538.00C1240.70,538.00 1246.90,538.00 1253.10,538.00C1255.50,538.00 1257.90,540.10 1260.30,540.10C1263.07,540.10 1265.83,540.10 1268.60,540.10C1272.07,540.10 1275.53,535.90 1279.00,535.90C1282.10,535.90 1285.20,535.90 1288.30,535.90C1290.03,535.90 1291.77,532.00 1293.50,532.00C1295.90,532.00 1298.30,532.00 1300.70,532.00C1302.43,532.00 1304.17,524.39 1305.90,522.10C1307.60,519.86 1309.30,518.30 1311.00,518.30C1314.47,518.30 1317.93,518.30 1321.40,518.30C1323.47,518.30 1325.53,521.44 1327.60,523.10C1329.53,524.65 1331.47,527.90 1333.40,527.90C1335.60,527.90 1337.80,521.04 1340.00,519.00C1341.73,517.39 1343.47,516.87 1345.20,515.90C1347.97,514.35 1350.73,511.70 1353.50,511.70C1355.90,511.70 1358.30,515.34 1360.70,516.30C1362.53,517.03 1364.37,517.50 1366.20,517.50C1368.60,517.50 1371.00,517.30 1373.40,516.90C1375.50,516.55 1377.60,513.80 1379.70,507.60C1380.73,504.55 1381.77,495.32 1382.80,491.00C1383.83,486.68 1384.87,481.70 1385.90,481.70C1387.97,481.70 1390.03,486.90 1392.10,486.90C1394.50,486.90 1396.90,481.70 1399.30,481.70C1400.33,481.70 1401.37,487.37 1402.40,491.00C1403.43,494.63 1404.47,503.50 1405.50,503.50C1407.93,503.50 1410.37,503.50 1412.80,503.50C1414.50,503.50 1416.20,494.10 1417.90,494.10C1419.30,494.10 1420.70,501.13 1422.10,503.50C1423.33,505.59 1424.57,508.00 1425.80,508.00C1427.67,508.00 1429.53,500.30 1431.40,500.30C1432.77,500.30 1434.13,510.46 1435.50,513.80C1436.90,517.22 1438.30,519.89 1439.70,520.40C1442.10,521.27 1444.50,521.70 1446.90,521.70C1448.97,521.70 1451.03,520.57 1453.10,518.30C1454.47,516.80 1455.83,508.00 1457.20,508.00C1458.27,508.00 1459.33,512.23 1460.40,514.80C1461.43,517.29 1462.47,523.10 1463.50,523.10C1466.23,523.10 1468.97,518.81 1471.70,517.50C1473.70,516.54 1475.70,515.50 1477.70,515.50C1478.63,515.50 1479.57,522.64 1480.50,527.10C1481.50,531.88 1482.50,543.50 1483.50,543.50C1484.47,543.50 1485.43,523.59 1486.40,509.20C1487.10,498.78 1487.80,482.73 1488.50,473.30C1489.30,462.52 1490.10,450.90 1490.90,450.90C1491.90,450.90 1492.90,450.90 1493.90,450.90C1495.40,450.90 1496.90,457.80 1498.40,457.80C1500.40,457.80 1502.40,457.80 1504.40,457.80C1505.90,457.80 1507.40,445.79 1508.90,443.50C1510.87,440.50 1512.83,440.17 1514.80,439.00C1517.80,437.22 1520.80,436.00 1523.80,436.00C1525.80,436.00 1527.80,445.80 1529.80,445.80C1532.27,445.80 1534.73,438.10 1537.20,438.10C1539.70,438.10 1542.20,438.10 1544.70,438.10C1546.70,438.10 1548.70,439.90 1550.70,439.90C1551.50,439.90 1552.30,424.99 1553.10,413.60C1553.80,403.64 1554.50,380.07 1555.20,377.70C1556.50,373.30 1557.80,372.88 1559.10,371.10C1560.77,368.81 1562.43,369.50 1564.10,366.30C1565.10,364.38 1566.10,354.77 1567.10,349.30C1568.10,343.83 1569.10,334.50 1570.10,333.50C1572.10,331.50 1574.10,332.50 1576.10,330.50C1577.40,329.20 1578.70,326.33 1580.00,323.90C1581.00,322.03 1582.00,317.90 1583.00,317.90C1585.33,317.90 1587.67,317.95 1590.00,318.00" fill="none" stroke="#ED8744" stroke-width="3.5" stroke-linejoin="round" stroke-linecap="round"/>
<path d="M18.70,542.10C20.30,541.05 21.90,540.00 23.50,540.00C25.20,540.00 26.90,541.41 28.60,542.10C30.00,542.67 31.40,543.62 32.80,543.80C34.87,544.07 36.93,543.93 39.00,544.20C39.67,544.29 40.33,552.56 41.00,562.80C41.70,573.55 42.40,607.32 43.10,608.40C44.13,610.00 45.17,610.52 46.20,610.80C47.93,611.27 49.67,611.50 51.40,611.50C53.47,611.50 55.53,610.00 57.60,610.00C59.67,610.00 61.73,612.57 63.80,613.50C65.87,614.43 67.93,615.60 70.00,615.60C72.77,615.60 75.53,611.70 78.30,611.70C80.37,611.70 82.43,611.77 84.50,611.90C87.27,612.08 90.03,613.13 92.80,613.50C96.27,613.97 99.73,613.73 103.20,614.20C105.23,614.47 107.27,617.03 109.30,617.20C112.40,617.47 115.50,617.33 118.60,617.60C120.33,617.75 122.07,619.41 123.80,619.70C126.20,620.10 128.60,619.90 131.00,620.30C132.40,620.53 133.80,630.79 135.20,631.00C140.03,631.73 144.87,632.10 149.70,632.10C151.77,632.10 153.83,627.90 155.90,627.90C157.97,627.90 160.03,639.05 162.10,641.40C164.50,644.13 166.90,645.50 169.30,645.50C173.10,645.50 176.90,639.22 180.70,638.30C183.47,637.63 186.23,637.97 189.00,637.30C191.20,636.77 193.40,632.10 195.60,632.10C197.53,632.10 199.47,634.99 201.40,635.20C203.80,635.47 206.20,635.60 208.60,635.60C210.00,635.60 211.40,620.19 212.80,614.50C213.83,610.30 214.87,604.10 215.90,604.10C216.93,604.10 217.97,606.37 219.00,609.30C220.03,612.23 221.07,621.70 222.10,621.70C224.17,621.70 226.23,617.60 228.30,617.60C231.07,617.60 233.83,620.30 236.60,620.30C240.50,620.30 244.40,620.30 248.30,620.30C250.37,620.30 252.43,617.60 254.50,617.60C256.23,617.60 257.97,618.48 259.70,619.70C262.43,621.63 265.17,629.40 267.90,629.40C269.63,629.40 271.37,627.30 273.10,627.30C275.87,627.30 278.63,629.40 281.40,629.40C283.47,629.40 285.53,627.90 287.60,627.90C289.67,627.90 291.73,629.40 293.80,629.40C295.87,629.40 297.93,629.40 300.00,629.40C302.77,629.40 305.53,625.90 308.30,625.90C310.37,625.90 312.43,627.90 314.50,627.90C316.57,627.90 318.63,627.70 320.70,627.30C322.77,626.90 324.83,620.30 326.90,620.30C329.30,620.30 331.70,625.90 334.10,625.90C336.17,625.90 338.23,620.30 340.30,620.30C342.40,620.30 344.50,621.70 346.60,621.70C349.00,621.70 351.40,619.70 353.80,619.70C362.07,619.70 370.33,619.70 378.60,619.70C380.80,619.70 383.00,624.53 385.20,625.90C387.27,627.18 389.33,627.90 391.40,627.90C393.80,627.90 396.20,621.70 398.60,621.70C401.03,621.70 403.47,621.70 405.90,621.70C408.30,621.70 410.70,625.90 413.10,625.90C415.50,625.90 417.90,625.90 420.30,625.90C422.40,625.90 424.50,627.90 426.60,627.90C434.87,627.90 443.13,627.90 451.40,627.90C453.13,627.90 454.87,624.38 456.60,620.70C458.30,617.09 460.00,611.02 461.70,606.20C462.87,602.89 464.03,596.30 465.20,596.30C467.13,596.30 469.07,597.85 471.00,597.90C484.80,598.23 498.60,598.07 512.40,598.40C513.80,598.43 515.20,610.20 516.60,610.40C523.27,611.33 529.93,611.80 536.60,611.80C538.67,611.80 540.73,610.20 542.80,609.90C545.53,609.50 548.27,609.70 551.00,609.30C553.43,608.94 555.87,605.60 558.30,605.60C560.03,605.60 561.77,605.80 563.50,606.20C565.57,606.68 567.63,609.65 569.70,609.90C572.43,610.23 575.17,610.07 577.90,610.40C579.30,610.57 580.70,617.89 582.10,619.70C583.13,621.03 584.17,621.70 585.20,621.70C586.90,621.70 588.60,616.07 590.30,615.50C593.07,614.57 595.83,614.61 598.60,614.10C602.07,613.46 605.53,612.00 609.00,612.00C611.73,612.00 614.47,612.00 617.20,612.00C619.97,612.00 622.73,609.90 625.50,609.90C628.97,609.90 632.43,610.07 635.90,610.40C638.30,610.63 640.70,612.40 643.10,612.40C645.87,612.40 648.63,609.90 651.40,609.90C654.50,609.90 657.60,612.00 660.70,612.00C666.00,612.00 671.30,611.80 676.60,611.40C680.03,611.14 683.47,605.80 686.90,605.80C691.73,605.80 696.57,605.80 701.40,605.80C703.60,605.80 705.80,609.90 708.00,609.90C710.27,609.90 712.53,605.80 714.80,605.80C719.30,605.80 723.80,605.80 728.30,605.80C730.37,605.80 732.43,609.73 734.50,609.90C738.63,610.23 742.77,610.07 746.90,610.40C749.30,610.59 751.70,612.00 754.10,612.00C782.83,612.00 811.57,611.93 840.30,611.80C842.03,611.79 843.77,609.90 845.50,609.90C857.23,609.90 868.97,609.90 880.70,609.90C882.43,609.90 884.17,611.50 885.90,612.40C887.97,613.47 890.03,615.90 892.10,615.90C896.57,615.90 901.03,615.90 905.50,615.90C908.27,615.90 911.03,613.50 913.80,613.50C915.87,613.50 917.93,613.50 920.00,613.50C922.07,613.50 924.13,611.40 926.20,611.40C937.00,611.40 947.80,611.53 958.60,611.80C961.37,611.87 964.13,614.10 966.90,614.10C977.23,614.10 987.57,614.10 997.90,614.10C999.63,614.10 1001.37,631.28 1003.10,631.50C1006.20,631.90 1009.30,632.10 1012.40,632.10C1014.47,632.10 1016.53,629.40 1018.60,629.40C1022.73,629.40 1026.87,629.40 1031.00,629.40C1033.07,629.40 1035.13,627.90 1037.20,627.90C1039.30,627.90 1041.40,629.40 1043.50,629.40C1052.10,629.40 1060.70,629.40 1069.30,629.40C1071.37,629.40 1073.43,627.30 1075.50,627.30C1077.93,627.30 1080.37,629.40 1082.80,629.40C1084.97,629.40 1087.13,627.90 1089.30,627.90C1091.73,627.90 1094.17,629.40 1096.60,629.40C1100.73,629.40 1104.87,628.43 1109.00,626.50C1111.40,625.38 1113.80,620.30 1116.20,620.30C1118.97,620.30 1121.73,620.30 1124.50,620.30C1128.30,620.30 1132.10,622.40 1135.90,622.40C1137.97,622.40 1140.03,609.90 1142.10,609.90C1143.33,609.90 1144.57,613.34 1145.80,615.50C1146.97,617.54 1148.13,622.40 1149.30,622.40C1151.37,622.40 1153.43,622.40 1155.50,622.40C1157.57,622.40 1159.63,620.30 1161.70,620.30C1168.27,620.30 1174.83,620.30 1181.40,620.30C1183.47,620.30 1185.53,622.40 1187.60,622.40C1194.50,622.40 1201.40,622.40 1208.30,622.40C1215.10,622.40 1221.90,622.20 1228.70,621.80C1230.40,621.70 1232.10,616.06 1233.80,615.20C1236.57,613.80 1239.33,613.79 1242.10,613.10C1244.40,612.53 1246.70,611.67 1249.00,611.40C1251.27,611.13 1253.53,611.27 1255.80,611.00C1257.20,610.84 1258.60,609.60 1260.00,609.60C1271.27,609.60 1282.53,609.60 1293.80,609.60C1296.30,609.60 1298.80,603.78 1301.30,602.10C1303.40,600.69 1305.50,599.60 1307.60,599.60C1309.67,599.60 1311.73,601.70 1313.80,602.70C1316.07,603.80 1318.33,604.60 1320.60,605.90C1322.47,606.97 1324.33,609.60 1326.20,609.60C1328.70,609.60 1331.20,609.60 1333.70,609.60C1335.57,609.60 1337.43,605.90 1339.30,605.90C1341.37,605.90 1343.43,611.70 1345.50,611.70C1347.10,611.70 1348.70,606.43 1350.30,604.80C1351.67,603.41 1353.03,602.10 1354.40,602.10C1356.47,602.10 1358.53,603.56 1360.60,603.70C1364.53,603.97 1368.47,603.83 1372.40,604.10C1374.23,604.22 1376.07,606.86 1377.90,609.00C1380.67,612.22 1383.43,618.63 1386.20,622.10C1388.50,624.99 1390.80,625.66 1393.10,628.90C1395.17,631.81 1397.23,640.00 1399.30,640.00C1401.37,640.00 1403.43,631.70 1405.50,631.70C1409.63,631.70 1413.77,635.80 1417.90,635.80C1420.67,635.80 1423.43,632.10 1426.20,632.10C1428.03,632.10 1429.87,642.00 1431.70,642.00C1434.00,642.00 1436.30,632.08 1438.60,628.00C1440.90,623.92 1443.20,617.50 1445.50,617.50C1447.80,617.50 1450.10,621.60 1452.40,621.60C1454.70,621.60 1457.00,618.49 1459.30,617.20C1463.43,614.89 1467.57,612.00 1471.70,612.00C1473.53,612.00 1475.37,616.86 1477.20,617.20C1479.73,617.67 1482.27,617.43 1484.80,617.90C1487.03,618.31 1489.27,631.60 1491.50,631.60C1493.50,631.60 1495.50,621.30 1497.50,621.30C1499.33,621.30 1501.17,622.80 1503.00,625.80C1505.00,629.07 1507.00,640.00 1509.00,641.20C1511.67,642.80 1514.33,643.60 1517.00,643.60C1523.97,643.60 1530.93,643.60 1537.90,643.60C1540.57,643.60 1543.23,645.70 1545.90,646.90C1549.13,648.35 1552.37,651.70 1555.60,651.70C1558.27,651.70 1560.93,648.10 1563.60,648.10C1567.37,648.10 1571.13,648.50 1574.90,649.30C1576.23,649.58 1577.57,653.42 1578.90,656.50C1580.23,659.58 1581.57,666.22 1582.90,667.80C1585.27,670.60 1587.63,671.30 1590.00,672.00" fill="none" stroke="#93BCFA" stroke-width="3.5" stroke-linejoin="round" stroke-linecap="round"/>
<path d="M18.70,629.00C19.27,625.24 19.83,621.48 20.40,618.70C21.43,613.63 22.47,610.00 23.50,610.00C24.53,610.00 25.57,611.31 26.60,612.50C27.97,614.07 29.33,617.48 30.70,619.10C32.07,620.72 33.43,622.20 34.80,622.20C36.07,622.20 37.33,622.07 38.60,621.80C39.07,621.70 39.53,597.87 40.00,583.50C40.50,568.11 41.00,545.71 41.50,531.80C42.03,516.96 42.57,500.01 43.10,498.60C44.13,495.87 45.17,494.70 46.20,494.50C47.60,494.23 49.00,494.10 50.40,494.10C51.07,494.10 51.73,497.47 52.40,502.80C53.10,508.39 53.80,520.03 54.50,527.60C55.67,540.22 56.83,559.70 58.00,559.70C58.90,559.70 59.80,557.29 60.70,554.50C62.10,550.16 63.50,539.77 64.90,533.80C66.60,526.56 68.30,516.20 70.00,516.20C71.40,516.20 72.80,519.40 74.20,521.40C75.57,523.35 76.93,528.00 78.30,528.00C79.70,528.00 81.10,510.90 82.50,509.00C83.53,507.60 84.57,506.90 85.60,506.90C86.97,506.90 88.33,507.27 89.70,508.00C91.43,508.93 93.17,526.98 94.90,527.20C96.97,527.47 99.03,527.33 101.10,527.60C102.10,527.73 103.10,527.93 104.10,528.60C105.83,529.76 107.57,543.10 109.30,543.10C111.37,543.10 113.43,531.70 115.50,531.70C116.53,531.70 117.57,533.69 118.60,535.90C120.00,538.89 121.40,548.09 122.80,549.30C125.20,551.37 127.60,550.33 130.00,552.40C131.87,554.01 133.73,567.30 135.60,567.30C137.53,567.30 139.47,554.10 141.40,554.10C144.17,554.10 146.93,563.80 149.70,563.80C153.13,563.80 156.57,557.69 160.00,554.50C162.77,551.93 165.53,546.60 168.30,546.60C171.07,546.60 173.83,547.90 176.60,547.90C178.30,547.90 180.00,535.90 181.70,535.90C184.13,535.90 186.57,537.57 189.00,538.30C191.07,538.92 193.13,538.87 195.20,540.00C197.40,541.21 199.60,561.70 201.80,561.70C203.73,561.70 205.67,553.90 207.60,552.40C212.07,548.93 216.53,547.20 221.00,547.20C226.20,547.20 231.40,547.20 236.60,547.20C238.67,547.20 240.73,539.83 242.80,539.00C244.63,538.27 246.47,538.63 248.30,537.90C250.00,537.22 251.70,530.21 253.40,528.00C255.50,525.27 257.60,523.90 259.70,523.90C260.87,523.90 262.03,524.10 263.20,524.50C264.77,525.04 266.33,530.64 267.90,531.70C269.97,533.10 272.03,533.17 274.10,533.80C276.17,534.43 278.23,535.30 280.30,535.50C283.07,535.77 285.83,535.63 288.60,535.90C290.20,536.05 291.80,545.80 293.40,545.80C300.10,545.80 306.80,545.80 313.50,545.80C315.20,545.80 316.90,540.00 318.60,540.00C321.70,540.00 324.80,543.70 327.90,543.70C329.97,543.70 332.03,540.00 334.10,540.00C336.17,540.00 338.23,543.44 340.30,543.70C342.40,543.97 344.50,543.83 346.60,544.10C348.67,544.36 350.73,547.70 352.80,547.70C361.40,547.70 370.00,547.70 378.60,547.70C381.03,547.70 383.47,551.40 385.90,551.40C388.07,551.40 390.23,548.24 392.40,547.20C394.47,546.21 396.53,546.53 398.60,545.20C401.03,543.63 403.47,535.90 405.90,535.90C407.60,535.90 409.30,545.80 411.00,545.80C414.10,545.80 417.20,545.80 420.30,545.80C422.03,545.80 423.77,543.70 425.50,543.70C427.93,543.70 430.37,547.90 432.80,547.90C434.50,547.90 436.20,540.42 437.90,537.90C440.33,534.30 442.77,532.26 445.20,532.10C449.33,531.83 453.47,531.70 457.60,531.70C460.37,531.70 463.13,534.20 465.90,534.20C469.33,534.20 472.77,532.37 476.20,530.10C478.63,528.49 481.07,523.90 483.50,523.90C488.30,523.90 493.10,523.90 497.90,523.90C499.63,523.90 501.37,535.33 503.10,535.50C505.87,535.77 508.63,535.63 511.40,535.90C513.47,536.10 515.53,555.50 517.60,555.50C519.67,555.50 521.73,547.90 523.80,547.90C525.97,547.90 528.13,553.50 530.30,553.50C532.73,553.50 535.17,537.90 537.60,537.90C539.67,537.90 541.73,539.77 543.80,540.00C546.20,540.27 548.60,540.13 551.00,540.40C553.23,540.65 555.47,552.00 557.70,552.00C559.63,552.00 561.57,545.80 563.50,545.80C566.60,545.80 569.70,545.93 572.80,546.20C574.87,546.38 576.93,548.47 579.00,551.40C581.07,554.33 583.13,562.40 585.20,563.80C587.27,565.20 589.33,565.90 591.40,565.90C595.20,565.90 599.00,563.80 602.80,563.80C605.20,563.80 607.60,567.90 610.00,567.90C611.73,567.90 613.47,565.20 615.20,565.20C624.50,565.20 633.80,565.43 643.10,565.90C645.17,566.00 647.23,569.48 649.30,569.60C653.80,569.87 658.30,569.73 662.80,570.00C663.83,570.06 664.87,575.93 665.90,579.30C666.70,581.91 667.50,585.76 668.30,587.60C670.70,593.13 673.10,595.90 675.50,595.90C677.23,595.90 678.97,584.00 680.70,583.90C685.53,583.63 690.37,583.50 695.20,583.50C697.60,583.50 700.00,587.60 702.40,587.60C704.13,587.60 705.87,579.70 707.60,579.70C710.37,579.70 713.13,583.90 715.90,583.90C717.97,583.90 720.03,581.40 722.10,581.40C726.23,581.40 730.37,581.40 734.50,581.40C735.73,581.40 736.97,587.23 738.20,589.70C739.37,592.03 740.53,595.90 741.70,595.90C744.13,595.90 746.57,590.50 749.00,589.20C753.13,587.00 757.27,585.90 761.40,585.90C763.47,585.90 765.53,588.43 767.60,589.70C770.37,591.40 773.13,594.06 775.90,594.80C778.63,595.53 781.37,595.90 784.10,595.90C787.57,595.90 791.03,595.90 794.50,595.90C796.23,595.90 797.97,599.60 799.70,599.60C802.90,599.60 806.10,599.40 809.30,599.00C812.77,598.57 816.23,585.90 819.70,585.90C821.77,585.90 823.83,593.80 825.90,593.80C828.63,593.80 831.37,589.70 834.10,589.70C836.87,589.70 839.63,597.41 842.40,597.50C850.33,597.77 858.27,597.90 866.20,597.90C867.93,597.90 869.67,596.05 871.40,595.90C874.50,595.63 877.60,595.77 880.70,595.50C882.43,595.35 884.17,587.60 885.90,587.60C887.60,587.60 889.30,595.90 891.00,595.90C893.77,595.90 896.53,595.90 899.30,595.90C901.37,595.90 903.43,598.40 905.50,598.40C907.57,598.40 909.63,595.90 911.70,595.90C913.77,595.90 915.83,599.54 917.90,599.60C927.67,599.87 937.43,599.73 947.20,600.00C947.90,600.02 948.60,615.13 949.30,620.70C950.20,627.86 951.10,635.60 952.00,635.60C953.87,635.60 955.73,620.30 957.60,620.30C960.37,620.30 963.13,625.48 965.90,627.30C970.37,630.24 974.83,632.10 979.30,632.10C982.07,632.10 984.83,631.90 987.60,631.50C989.33,631.25 991.07,630.53 992.80,628.60C993.83,627.45 994.87,611.60 995.90,608.30C997.97,601.70 1000.03,598.60 1002.10,598.40C1005.53,598.07 1008.97,598.23 1012.40,597.90C1014.13,597.73 1015.87,589.70 1017.60,589.70C1019.87,589.70 1022.13,593.80 1024.40,593.80C1026.27,593.80 1028.13,585.90 1030.00,585.90C1032.77,585.90 1035.53,590.10 1038.30,590.10C1049.00,590.10 1059.70,590.10 1070.40,590.10C1072.47,590.10 1074.53,580.85 1076.60,579.70C1079.00,578.37 1081.40,577.70 1083.80,577.70C1084.60,577.70 1085.40,578.53 1086.20,578.90C1089.30,580.33 1092.40,579.87 1095.50,581.80C1096.90,582.67 1098.30,585.28 1099.70,587.60C1101.07,589.86 1102.43,595.50 1103.80,595.50C1106.20,595.50 1108.60,593.40 1111.00,593.40C1113.07,593.40 1115.13,593.70 1117.20,594.20C1119.97,594.87 1122.73,596.62 1125.50,597.50C1128.60,598.48 1131.70,599.60 1134.80,599.60C1137.23,599.60 1139.67,597.90 1142.10,597.90C1144.50,597.90 1146.90,598.60 1149.30,600.00C1151.03,601.01 1152.77,606.13 1154.50,608.30C1156.57,610.88 1158.63,613.50 1160.70,613.50C1163.47,613.50 1166.23,613.50 1169.00,613.50C1171.73,613.50 1174.47,609.90 1177.20,609.90C1179.30,609.90 1181.40,610.20 1183.50,610.80C1185.20,611.29 1186.90,613.91 1188.60,614.10C1191.03,614.37 1193.47,614.23 1195.90,614.50C1198.30,614.76 1200.70,617.21 1203.10,617.60C1205.53,618.00 1207.97,617.80 1210.40,618.20C1213.13,618.65 1215.87,621.70 1218.60,621.70C1223.67,621.70 1228.73,621.60 1233.80,621.60C1236.10,621.60 1238.40,627.18 1240.70,627.60C1243.23,628.07 1245.77,627.83 1248.30,628.30C1250.80,628.76 1253.30,634.49 1255.80,634.90C1259.50,635.50 1263.20,635.20 1266.90,635.80C1269.43,636.21 1271.97,638.20 1274.50,638.20C1277.00,638.20 1279.50,635.85 1282.00,635.40C1283.87,635.07 1285.73,634.90 1287.60,634.90C1289.90,634.90 1292.20,637.20 1294.50,637.20C1296.33,637.20 1298.17,635.80 1300.00,635.80C1302.07,635.80 1304.13,649.38 1306.20,649.60C1308.73,649.87 1311.27,650.00 1313.80,650.00C1315.63,650.00 1317.47,648.13 1319.30,646.20C1321.60,643.78 1323.90,638.15 1326.20,635.80C1328.50,633.45 1330.80,632.10 1333.10,632.10C1335.40,632.10 1337.70,633.30 1340.00,633.50C1342.27,633.70 1344.53,633.60 1346.80,633.80C1348.87,633.98 1350.93,635.40 1353.00,635.40C1355.30,635.40 1357.60,633.50 1359.90,633.50C1361.53,633.50 1363.17,641.01 1364.80,641.40C1367.33,642.00 1369.87,641.70 1372.40,642.30C1374.70,642.84 1377.00,645.90 1379.30,645.90C1380.67,645.90 1382.03,643.57 1383.40,642.00C1384.80,640.39 1386.20,637.88 1387.60,636.30C1389.20,634.49 1390.80,634.90 1392.40,632.10C1393.33,630.47 1394.27,625.24 1395.20,621.40C1396.33,616.74 1397.47,607.89 1398.60,606.20C1400.43,603.47 1402.27,602.10 1404.10,602.10C1405.93,602.10 1407.77,603.84 1409.60,604.80C1412.37,606.25 1415.13,609.60 1417.90,609.60C1420.20,609.60 1422.50,607.08 1424.80,604.80C1427.10,602.52 1429.40,596.94 1431.70,595.90C1433.77,594.97 1435.83,594.50 1437.90,594.50C1440.20,594.50 1442.50,598.63 1444.80,599.30C1447.33,600.03 1449.87,599.67 1452.40,600.40C1454.23,600.93 1456.07,613.80 1457.90,613.80C1459.50,613.80 1461.10,596.48 1462.70,595.20C1463.87,594.27 1465.03,593.80 1466.20,593.80C1468.27,593.80 1470.33,597.60 1472.40,597.60C1473.77,597.60 1475.13,595.40 1476.50,591.00C1477.20,588.75 1477.90,583.93 1478.60,580.00C1479.40,575.51 1480.20,571.00 1481.00,565.50C1481.90,559.31 1482.80,544.40 1483.70,544.40C1484.87,544.40 1486.03,555.15 1487.20,564.50C1487.77,569.04 1488.33,575.39 1488.90,580.00C1489.60,585.69 1490.30,593.81 1491.00,594.50C1493.30,596.77 1495.60,596.95 1497.90,597.90C1499.97,598.75 1502.03,600.00 1504.10,600.00C1505.17,600.00 1506.23,591.69 1507.30,589.00C1508.40,586.23 1509.50,583.80 1510.60,583.80C1513.27,583.80 1515.93,585.60 1518.60,586.50C1521.83,587.60 1525.07,588.42 1528.30,589.80C1530.97,590.94 1533.63,593.60 1536.30,593.80C1538.97,594.00 1541.63,593.90 1544.30,594.10C1545.13,594.16 1545.97,595.87 1546.80,598.60C1548.13,602.96 1549.47,613.67 1550.80,621.10C1551.87,627.04 1552.93,635.60 1554.00,638.80C1555.07,642.00 1556.13,642.50 1557.20,643.60C1559.33,645.80 1561.47,644.70 1563.60,646.90C1564.70,648.03 1565.80,651.31 1566.90,656.50C1567.70,660.28 1568.50,667.30 1569.30,671.00C1570.37,675.94 1571.43,677.83 1572.50,679.80C1573.83,682.27 1575.17,683.50 1576.50,683.50C1578.63,683.50 1580.77,683.03 1582.90,682.20C1585.27,681.28 1587.63,679.64 1590.00,678.00" fill="none" stroke="#5079F5" stroke-width="3.5" stroke-linejoin="round" stroke-linecap="round"/>
<path d="M128.20,692.10C137.53,692.10 146.87,692.10 156.20,692.10C157.07,692.10 157.93,687.81 158.80,685.60C159.80,683.05 160.80,677.80 161.80,677.80C162.77,677.80 163.73,679.48 164.70,680.40C166.43,682.04 168.17,685.80 169.90,685.80C170.97,685.80 172.03,681.80 173.10,680.40C173.97,679.27 174.83,677.80 175.70,677.80C176.80,677.80 177.90,679.43 179.00,680.40C180.50,681.72 182.00,684.31 183.50,684.90C185.03,685.50 186.57,685.80 188.10,685.80C190.70,685.80 193.30,685.80 195.90,685.80C198.07,685.80 200.23,688.20 202.40,688.20C204.57,688.20 206.73,686.37 208.90,685.60C211.07,684.83 213.23,683.60 215.40,683.60C217.60,683.60 219.80,685.80 222.00,685.80C230.23,685.80 238.47,685.80 246.70,685.80C248.87,685.80 251.03,687.90 253.20,687.90C264.47,687.90 275.73,687.90 287.00,687.90C289.17,687.90 291.33,689.70 293.50,689.70C322.30,689.70 351.10,689.70 379.90,689.70C381.83,689.70 383.77,693.60 385.70,693.60C387.67,693.60 389.63,691.40 391.60,691.40C396.17,691.40 400.73,691.40 405.30,691.40C407.47,691.40 409.63,693.60 411.80,693.60C414.40,693.60 417.00,693.60 419.60,693.60C421.77,693.60 423.93,695.70 426.10,695.70C441.50,695.70 456.90,695.70 472.30,695.70C475.77,695.70 479.23,691.40 482.70,691.40C492.47,691.40 502.23,691.40 512.00,691.40C512.67,691.40 513.33,686.27 514.00,683.00C515.07,677.77 516.13,663.70 517.20,663.70C518.73,663.70 520.27,664.17 521.80,664.70C524.83,665.75 527.87,669.08 530.90,670.20C533.20,671.05 535.50,670.73 537.80,671.50C539.53,672.08 541.27,673.67 543.00,673.80C545.60,674.00 548.20,673.90 550.80,674.10C552.97,674.27 555.13,678.00 557.30,678.00C559.47,678.00 561.63,671.90 563.80,671.90C566.00,671.90 568.20,674.10 570.40,674.10C572.77,674.10 575.13,671.90 577.50,671.90C578.60,671.90 579.70,673.60 580.80,674.50C582.10,675.56 583.40,677.78 584.70,677.80C592.93,677.93 601.17,678.00 609.40,678.00C611.57,678.00 613.73,673.91 615.90,673.80C618.50,673.67 621.10,673.60 623.70,673.60C626.10,673.60 628.50,676.20 630.90,676.20C632.83,676.20 634.77,676.07 636.70,675.80C638.47,675.56 640.23,673.80 642.00,673.80C644.60,673.80 647.20,673.80 649.80,673.80C651.73,673.80 653.67,676.20 655.60,676.20C657.77,676.20 659.93,673.80 662.10,673.80C664.50,673.80 666.90,676.20 669.30,676.20C697.63,676.20 725.97,675.50 754.30,675.50C756.90,675.50 759.50,678.10 762.10,678.10C764.27,678.10 766.43,678.00 768.60,677.80C770.33,677.64 772.07,675.50 773.80,675.50C775.57,675.50 777.33,677.80 779.10,677.80C781.90,677.80 784.70,677.80 787.50,677.80C789.47,677.80 791.43,673.50 793.40,673.50C804.23,673.50 815.07,673.50 825.90,673.50C828.30,673.50 830.70,671.60 833.10,671.60C835.27,671.60 837.43,673.90 839.60,673.90C841.77,673.90 843.93,673.77 846.10,673.50C848.50,673.20 850.90,669.60 853.30,669.60C855.67,669.60 858.03,669.60 860.40,669.60C861.93,669.60 863.47,651.80 865.00,651.80C867.37,651.80 869.73,653.60 872.10,653.60C874.07,653.60 876.03,650.64 878.00,645.60C879.30,642.27 880.60,637.17 881.90,632.50C883.20,627.83 884.50,617.60 885.80,617.60C887.53,617.60 889.27,633.06 891.00,633.20C894.27,633.47 897.53,633.60 900.80,633.60C902.30,633.60 903.80,621.50 905.30,621.50C907.03,621.50 908.77,636.70 910.50,637.10C913.10,637.70 915.70,637.40 918.30,638.00C920.47,638.50 922.63,643.36 924.80,643.60C927.20,643.87 929.60,643.73 932.00,644.00C933.97,644.22 935.93,648.20 937.90,648.20C940.07,648.20 942.23,645.80 944.40,645.80C946.57,645.80 948.73,645.80 950.90,645.80C953.20,645.80 955.50,647.90 957.80,647.90C960.40,647.90 963.00,643.60 965.60,643.60C968.00,643.60 970.40,645.80 972.80,645.80C979.10,645.80 985.40,645.80 991.70,645.80C993.43,645.80 995.17,651.22 996.90,651.40C999.50,651.67 1002.10,651.53 1004.70,651.80C1006.87,652.02 1009.03,653.60 1011.20,653.60C1017.70,653.60 1024.20,653.60 1030.70,653.60C1032.67,653.60 1034.63,656.14 1036.60,658.60C1038.97,661.56 1041.33,668.03 1043.70,670.90C1045.67,673.28 1047.63,675.50 1049.60,675.50C1050.67,675.50 1051.73,672.59 1052.80,670.30C1054.53,666.58 1056.27,658.43 1058.00,654.70C1059.77,650.90 1061.53,647.90 1063.30,647.90C1065.47,647.90 1067.63,651.80 1069.80,651.80C1071.73,651.80 1073.67,649.70 1075.60,649.70C1078.20,649.70 1080.80,659.90 1083.40,659.90C1085.57,659.90 1087.73,655.70 1089.90,655.70C1092.30,655.70 1094.70,657.57 1097.10,658.30C1099.40,659.00 1101.70,660.00 1104.00,660.00C1105.73,660.00 1107.47,650.00 1109.20,650.00C1110.93,650.00 1112.67,650.44 1114.40,651.10C1116.87,652.04 1119.33,654.75 1121.80,655.70C1125.27,657.03 1128.73,657.70 1132.20,657.70C1137.93,657.70 1143.67,657.70 1149.40,657.70C1153.23,657.70 1157.07,656.40 1160.90,653.80C1163.20,652.24 1165.50,647.40 1167.80,647.40C1170.10,647.40 1172.40,650.00 1174.70,650.00C1177.00,650.00 1179.30,650.00 1181.60,650.00C1183.90,650.00 1186.20,645.40 1188.50,645.40C1192.70,645.40 1196.90,645.40 1201.10,645.40C1203.40,645.40 1205.70,647.70 1208.00,647.70C1210.30,647.70 1212.60,647.60 1214.90,647.40C1216.83,647.23 1218.77,646.30 1220.70,645.70C1223.00,644.98 1225.30,643.40 1227.60,643.40C1230.13,643.40 1232.67,643.40 1235.20,643.40C1239.33,643.40 1243.47,640.12 1247.60,639.60C1250.80,639.20 1254.00,639.40 1257.20,639.00C1258.60,638.83 1260.00,637.73 1261.40,636.50C1263.23,634.89 1265.07,631.56 1266.90,629.60C1269.20,627.14 1271.50,623.80 1273.80,623.80C1275.63,623.80 1277.47,631.52 1279.30,631.70C1282.07,631.97 1284.83,631.83 1287.60,632.10C1289.67,632.30 1291.73,641.80 1293.80,641.80C1295.63,641.80 1297.47,637.60 1299.30,637.60C1300.67,637.60 1302.03,641.71 1303.40,643.40C1304.93,645.30 1306.47,648.20 1308.00,648.20C1309.37,648.20 1310.73,640.81 1312.10,640.70C1314.50,640.50 1316.90,640.40 1319.30,640.40C1321.37,640.40 1323.43,642.83 1325.50,643.70C1328.03,644.77 1330.57,645.90 1333.10,645.90C1335.40,645.90 1337.70,641.80 1340.00,641.80C1342.27,641.80 1344.53,643.70 1346.80,643.70C1349.33,643.70 1351.87,643.70 1354.40,643.70C1356.23,643.70 1358.07,641.34 1359.90,639.60C1361.77,637.82 1363.63,633.10 1365.50,633.10C1368.27,633.10 1371.03,635.40 1373.80,635.80C1376.10,636.13 1378.40,636.00 1380.70,636.30C1383.00,636.60 1385.30,637.60 1387.60,637.60C1389.20,637.60 1390.80,635.80 1392.40,635.80C1394.93,635.80 1397.47,643.70 1400.00,643.70C1401.83,643.70 1403.67,635.80 1405.50,635.80C1407.57,635.80 1409.63,647.80 1411.70,647.80C1415.37,647.80 1419.03,644.10 1422.70,644.10C1425.70,644.10 1428.70,645.90 1431.70,645.90C1433.77,645.90 1435.83,642.00 1437.90,642.00C1444.57,642.00 1451.23,642.00 1457.90,642.00C1460.67,642.00 1463.43,646.06 1466.20,647.60C1469.87,649.64 1473.53,649.07 1477.20,652.00C1479.50,653.84 1481.80,654.67 1484.10,660.00C1485.23,662.63 1486.37,668.94 1487.50,672.40C1488.83,676.47 1490.17,681.80 1491.50,681.80C1493.60,681.80 1495.70,678.82 1497.80,677.50C1499.90,676.18 1502.00,673.90 1504.10,673.90C1505.73,673.90 1507.37,679.40 1509.00,679.40C1513.80,679.40 1518.60,679.40 1523.40,679.40C1525.30,679.40 1527.20,673.90 1529.10,673.90C1534.17,673.90 1539.23,673.90 1544.30,673.90C1546.47,673.90 1548.63,679.20 1550.80,681.40C1552.40,683.03 1554.00,685.80 1555.60,685.80C1558.27,685.80 1560.93,681.40 1563.60,681.40C1565.50,681.40 1567.40,685.21 1569.30,685.50C1572.77,686.03 1576.23,686.30 1579.70,686.30C1583.13,686.30 1586.57,686.15 1590.00,686.00" fill="none" stroke="#F3C845" stroke-width="3.5" stroke-linejoin="round" stroke-linecap="round"/>
<circle cx="1590" cy="318" r="12" fill="#ED8744" fill-opacity="0.45"/><circle cx="1590" cy="318" r="8" fill="#ED8744"/>
<circle cx="1590" cy="672" r="12" fill="#93BCFA" fill-opacity="0.45"/><circle cx="1590" cy="672" r="8" fill="#93BCFA"/>
<circle cx="1590" cy="678" r="12" fill="#5079F5" fill-opacity="0.45"/><circle cx="1590" cy="678" r="8" fill="#5079F5"/>
<circle cx="1590" cy="686" r="12" fill="#F3C845" fill-opacity="0.45"/><circle cx="1590" cy="686" r="8" fill="#F3C845"/>
<text x="1612.9" y="340.1" font-family="Liberation Sans" font-size="24.4" font-weight="normal" fill="#777777" text-anchor="start" textLength="44.77" lengthAdjust="spacingAndGlyphs">80%</text><text x="1612.9" y="429.9" font-family="Liberation Sans" font-size="24.4" font-weight="normal" fill="#777777" text-anchor="start" textLength="44.97" lengthAdjust="spacingAndGlyphs">60%</text><text x="1613.5" y="521.9" font-family="Liberation Sans" font-size="24.4" font-weight="normal" fill="#777777" text-anchor="start" textLength="44.87" lengthAdjust="spacingAndGlyphs">40%</text><text x="1612.1" y="612.1" font-family="Liberation Sans" font-size="24.4" font-weight="normal" fill="#777777" text-anchor="start" textLength="44.96" lengthAdjust="spacingAndGlyphs">20%</text><text x="1620.7" y="704.2" font-family="Liberation Sans" font-size="24.4" font-weight="normal" fill="#777777" text-anchor="start" textLength="29.48" lengthAdjust="spacingAndGlyphs">0%</text>
<text x="334.7" y="765.8" font-family="Liberation Sans" font-size="24.2" font-weight="normal" fill="#777777" text-anchor="start" textLength="42.0" lengthAdjust="spacingAndGlyphs">Sep</text><text x="730.4" y="766.0" font-family="Liberation Sans" font-size="24.2" font-weight="normal" fill="#777777" text-anchor="start" textLength="38.66" lengthAdjust="spacingAndGlyphs">Oct</text><text x="1137.1" y="765.8" font-family="Liberation Sans" font-size="24.2" font-weight="normal" fill="#777777" text-anchor="start" textLength="41.13" lengthAdjust="spacingAndGlyphs">Nov</text><text x="1530.2" y="765.8" font-family="Liberation Sans" font-size="24.2" font-weight="normal" fill="#777777" text-anchor="start" textLength="43.02" lengthAdjust="spacingAndGlyphs">Dec</text>
<rect x="431" y="808" width="86" height="56" rx="8" fill="#e8e8eb"/><text x="40.0" y="844.8" font-family="Liberation Sans" font-size="29.4" font-weight="bold" fill="#777e8c" text-anchor="start" textLength="33.41" lengthAdjust="spacingAndGlyphs" stroke="#fff" stroke-width="0.3">1H</text><text x="117.5" y="845.1" font-family="Liberation Sans" font-size="29.4" font-weight="bold" fill="#777e8c" text-anchor="start" textLength="36.08" lengthAdjust="spacingAndGlyphs" stroke="#fff" stroke-width="0.3">6H</text><text x="199.0" y="845.1" font-family="Liberation Sans" font-size="29.4" font-weight="bold" fill="#777e8c" text-anchor="start" textLength="33.94" lengthAdjust="spacingAndGlyphs" stroke="#fff" stroke-width="0.3">1D</text><text x="277.5" y="845.1" font-family="Liberation Sans" font-size="29.4" font-weight="bold" fill="#777e8c" text-anchor="start" textLength="44.1" lengthAdjust="spacingAndGlyphs" stroke="#fff" stroke-width="0.3">1W</text><text x="366.6" y="845.1" font-family="Liberation Sans" font-size="29.4" font-weight="bold" fill="#777e8c" text-anchor="start" textLength="40.4" lengthAdjust="spacingAndGlyphs" stroke="#fff" stroke-width="0.3">1M</text><text x="450.2" y="845.1" font-family="Liberation Sans" font-size="29.4" font-weight="bold" fill="#111111" text-anchor="start" textLength="47.15" lengthAdjust="spacingAndGlyphs" stroke="#e8e8eb" stroke-width="0.3">ALL</text>
<g stroke="#000" stroke-width="2.7" stroke-linecap="round" fill="#fff"><line x1="1555.4" y1="828.4" x2="1584.6" y2="828.4"/><line x1="1555.4" y1="843.3" x2="1584.6" y2="843.3"/><circle cx="1574.0" cy="828.4" r="4.4"/><circle cx="1565.9" cy="843.3" r="4.4"/></g>
<path d="M1640.10,824.04Q1641.80,821.90 1643.50,824.04L1644.64,825.47Q1645.86,827.01 1647.80,826.78L1649.61,826.58Q1652.34,826.26 1652.02,828.99L1651.82,830.80Q1651.59,832.74 1653.13,833.96L1654.56,835.10Q1656.70,836.80 1654.56,838.50L1653.13,839.64Q1651.59,840.86 1651.82,842.80L1652.02,844.61Q1652.34,847.34 1649.61,847.02L1647.80,846.82Q1645.86,846.59 1644.64,848.13L1643.50,849.56Q1641.80,851.70 1640.10,849.56L1638.96,848.13Q1637.74,846.59 1635.80,846.82L1633.99,847.02Q1631.26,847.34 1631.58,844.61L1631.78,842.80Q1632.01,840.86 1630.47,839.64L1629.04,838.50Q1626.90,836.80 1629.04,835.10L1630.47,833.96Q1632.01,832.74 1631.78,830.80L1631.58,828.99Q1631.26,826.26 1633.99,826.58L1635.80,826.78Q1637.74,827.01 1638.96,825.47Z" fill="none" stroke="#000" stroke-width="2.6" stroke-linejoin="round"/><circle cx="1641.8" cy="836.8" r="4.55" fill="none" stroke="#000" stroke-width="2.5"/>
</svg>
</body></html>
